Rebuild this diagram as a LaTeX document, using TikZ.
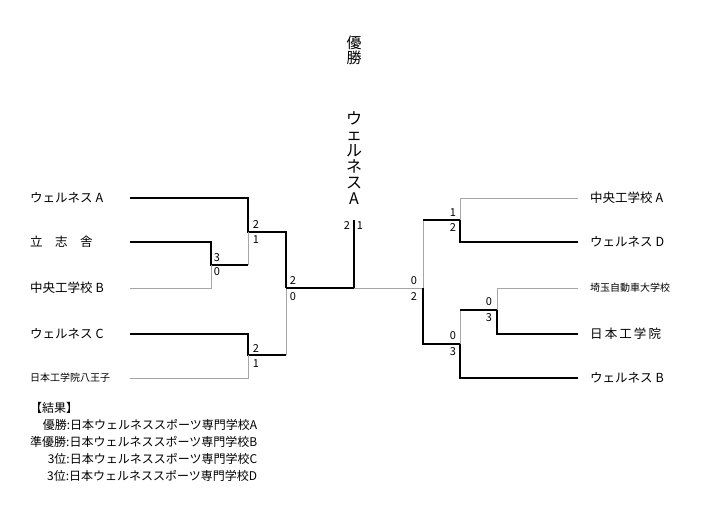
\documentclass[tikz,border=0pt]{standalone}
\usepackage{fontspec}
\setmainfont{Noto Sans CJK JP}
\usetikzlibrary{positioning}
\tikzset{win/.style={line width=2pt,black},
  lose/.style={line width=0.8pt,black!35},
  team/.style={font=\fontsize{12.5}{14}\selectfont,inner sep=0pt},
  score/.style={font=\fontsize{11}{12}\selectfont,inner sep=0pt}}
\begin{document}
\begin{tikzpicture}[x=1pt,y=-1pt]
\useasboundingbox (0,0) rectangle (708,525);
% left side
\node[team,anchor=west] (la) at (30,198) {ウェルネス A};
\node[team,anchor=west] (lb) at (30,242) {立　志　舎};
\node[team,anchor=west] (lc) at (30,288) {中央工学校 B};
\node[team,anchor=west] (ld) at (30,334) {ウェルネス C};
\node[team,anchor=west,font=\fontsize{10}{11}\selectfont] (le) at (30,378) {日本工学院八王子};
% right side
\node[team,anchor=west] (ra) at (590,198) {中央工学校 A};
\node[team,anchor=west] (rb) at (590,242) {ウェルネス D};
\node[team,anchor=west,font=\fontsize{10}{11}\selectfont] (rc) at (590,288) {埼玉自動車大学校};
\node[team,anchor=west] (rd) at (590,334) {日\,本\,工\,学\,院};
\node[team,anchor=west] (re) at (590,378) {ウェルネス B};
\coordinate (top) at (354,220);
\coordinate (lmid) at (286,288);
\coordinate (rmid) at (423,288);
% left lines
\draw[win] (130,198) -| (248,232) -- (286,232) -- (lmid);
\draw[win] (130,242) -| (211,265) -- (248,265);
\draw[lose] (248,265) -- (248,232);
\draw[lose] (130,288) -| (211,265);
\draw[win] (130,334) -| (248,355) -- (286,355);
\draw[lose] (286,355) -- (lmid);
\draw[lose] (130,378) -| (248,355);
\draw[win] (lmid) -- (354,288) -- (top);
% right lines
\draw[lose] (354,288) -- (rmid);
\draw[lose] (rmid) -- (423,220);
\draw[win] (rmid) -- (423,344) -- (460,344) |- (578,378);
\draw[win] (423,220) -- (460,220) |- (578,242);
\draw[lose] (460,220) |- (578,198);
\draw[lose] (460,344) -- (460,310);
\draw[win] (460,310) -- (497,310) |- (578,334);
\draw[lose] (497,310) |- (578,288);
% scores
\foreach \x/\y/\s in {256/225/2,256/240/1,217/258/3,217/272/0,293/281/2,293/297/0,
  256/348/2,256/364/1,347/226/2,360/226/1,414/281/0,414/297/2,453/213/1,453/228/2,
  453/336/0,453/352/3,489/302/0,489/318/3}
  \node[score] at (\x,\y) {\s};
% title
\node[font=\fontsize{15}{17}\selectfont,align=center,inner sep=0pt] (ttl) at (354,50) {優\\[-2pt]勝};
\node[font=\fontsize{16}{18}\selectfont,align=center,inner sep=0pt] (champ) at (354,158) {ウ\\[-2pt]ェ\\[-2pt]ル\\[-2pt]ネ\\[-2pt]ス\\[-2pt]A};
% results
\node[font=\fontsize{12}{17}\selectfont,anchor=north west,align=right,inner sep=0pt] (res) at (30,402)
  {\makebox[0pt][l]{【結果】}\hphantom{準優勝:日本ウェルネススポーツ専門学校B}\\
   優勝:日本ウェルネススポーツ専門学校A\\
   準優勝:日本ウェルネススポーツ専門学校B\\
   3位:日本ウェルネススポーツ専門学校C\\
   3位:日本ウェルネススポーツ専門学校D};
\end{tikzpicture}
\end{document}
